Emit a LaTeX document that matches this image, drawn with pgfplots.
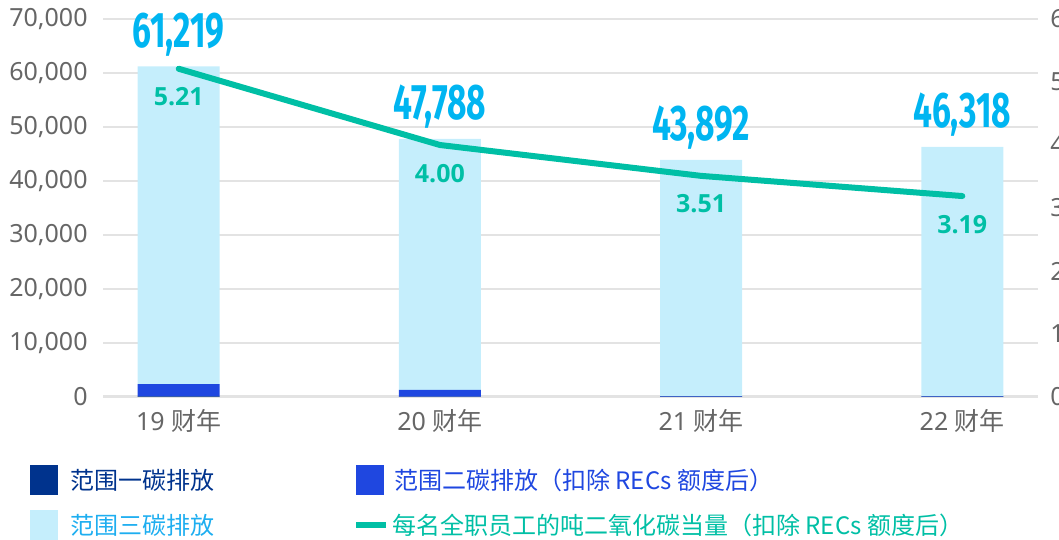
\documentclass[border=0pt]{standalone}
\usepackage{pgfplots}
\pgfplotsset{compat=1.18}
\usepackage{fontspec}
\setmainfont{Noto Sans}
\newfontfamily\cjk{Noto Sans CJK SC}
\newfontfamily\numfont{Fira Sans}
\newfontfamily\lblfont{Open Sans}
\definecolor{sone}{HTML}{00338D}
\definecolor{stwo}{HTML}{1F47E0}
\definecolor{sthree}{HTML}{C5EEFC}
\definecolor{sthreetxt}{HTML}{1EAEF0}
\definecolor{lineteal}{HTML}{00BFA5}
\definecolor{bignum}{HTML}{00B5F1}
\definecolor{tickgray}{HTML}{666666}
\definecolor{gridgray}{HTML}{E3E3E3}
\pgfplotstableread{
x s1 s2 s3 total
0 100 2300 58819 61219
1 80 1250 46458 47788
2 60 100 43732 43892
3 60 100 46158 46318
}\emis
\begin{document}
\begin{tikzpicture}
\begin{axis}[
  at={(51.5pt,71.5pt)}, anchor=south west, scale only axis,
  width=467.5pt, height=189pt,
  xmin=-0.29, xmax=3.29, ymin=0, ymax=70000,
  ybar stacked, bar width=41pt,
  clip=false,
  xtick={0,1,2,3},
  xticklabels={19 {\cjk 财年}, 20 {\cjk 财年}, 21 {\cjk 财年}, 22 {\cjk 财年}},
  ytick={0,10000,20000,30000,40000,50000,60000,70000},
  scaled y ticks=false,
  yticklabel={\pgfmathprintnumber[fixed,precision=0,1000 sep={,}]{\tick}},
  /pgf/number format/assume math mode=true,
  ymajorgrids, major grid style={draw=gridgray, line width=1pt},
  axis x line*=bottom, axis y line*=left,
  x axis line style={draw=gridgray, line width=1.5pt, -},
  y axis line style={draw=none},
  major tick length=0pt,
  tick label style={font=\fontsize{12.5}{14}\selectfont, text=tickgray},
  yticklabel style={inner sep=0pt, anchor=east, xshift=-7.5pt},
  xticklabel style={inner sep=0pt, anchor=north, yshift=-6pt},
  legend style={at={(-0.0781,-0.1799)}, anchor=north west, draw=none, fill=none,
    inner sep=0pt, column sep=0pt, row sep=7.5pt,
    nodes={inner sep=0pt, font=\fontsize{12}{14}\selectfont\cjk}},
  legend columns=2,
  legend cell align=left,
  legend image code/.code={\fill[#1] (0pt,-7.5pt) rectangle (14pt,7.5pt);},
]
\addplot[fill=sone, draw=none] table[x=x, y=s1] {\emis};
\addlegendentry{\makebox[147.5pt][l]{\hspace{6pt}\textcolor{sone}{范围一碳排放}}}
\addplot[fill=stwo, draw=none] table[x=x, y=s2] {\emis};
\addlegendentry{\hspace{2.5pt}\textcolor{stwo}{范围二碳排放（扣除 RECs 额度后）}}
\addplot[fill=sthree, draw=none] table[x=x, y=s3] {\emis};
\addlegendentry{\makebox[147.5pt][l]{\hspace{6pt}\textcolor{sthreetxt}{范围三碳排放}}}
\addlegendimage{legend image code/.code={\draw[line width=3pt, lineteal] (0pt,0pt) -- (15pt,0pt);
    \path[draw=none,fill=none] (0pt,-7.5pt) rectangle (15pt,7.5pt);}}
\addlegendentry{\hspace{1.5pt}\textcolor{lineteal}{每名全职员工的吨二氧化碳当量（扣除 RECs 额度后）}}
\end{axis}
\begin{axis}[
  at={(51.5pt,71.5pt)}, anchor=south west, scale only axis,
  width=467.5pt, height=189pt,
  xmin=-0.29, xmax=3.29, ymin=0, ymax=70000,
  clip=false, axis lines=none,
  /pgf/number format/assume math mode=true,
]
\addplot[draw=none, mark=none, point meta=explicit,
  nodes near coords={\scalebox{0.67}[1]{\numfont\bfseries\fontsize{25}{25}\selectfont\pgfmathprintnumber[fixed,precision=0,1000 sep={,},assume math mode=true]{\pgfplotspointmeta}}},
  nodes near coords style={anchor=base, inner sep=0pt, yshift=9.5pt, text=bignum},
] table[x=x, y=total, meta=total] {\emis};
\end{axis}
\begin{axis}[
  at={(51.5pt,71.5pt)}, anchor=south west, scale only axis,
  width=467.5pt, height=189pt,
  xmin=-0.29, xmax=3.29, ymin=0, ymax=6,
  clip=false,
  axis x line=none, axis y line*=right,
  y axis line style={draw=none},
  ytick={0,1,2,3,4,5,6},
  major tick length=0pt,
  /pgf/number format/assume math mode=true,
  tick label style={font=\fontsize{12.5}{14}\selectfont, text=tickgray},
  yticklabel style={inner sep=0pt, anchor=west, xshift=6pt},
]
\addplot[lineteal, line width=3pt, line join=round, line cap=round, mark=none,
  point meta=y,
  nodes near coords={\pgfmathprintnumber[fixed,precision=2,zerofill]{\pgfplotspointmeta}},
  nodes near coords style={anchor=north, inner sep=0pt, yshift=-8pt, text=lineteal,
    font=\fontsize{12.5}{14}\selectfont\lblfont\bfseries},
] coordinates {(0,5.21) (1,4.00) (2,3.51) (3,3.19)};
\end{axis}
\pgfresetboundingbox
\useasboundingbox (0pt,0pt) rectangle (529.5pt,270pt);
\end{tikzpicture}
\end{document}
